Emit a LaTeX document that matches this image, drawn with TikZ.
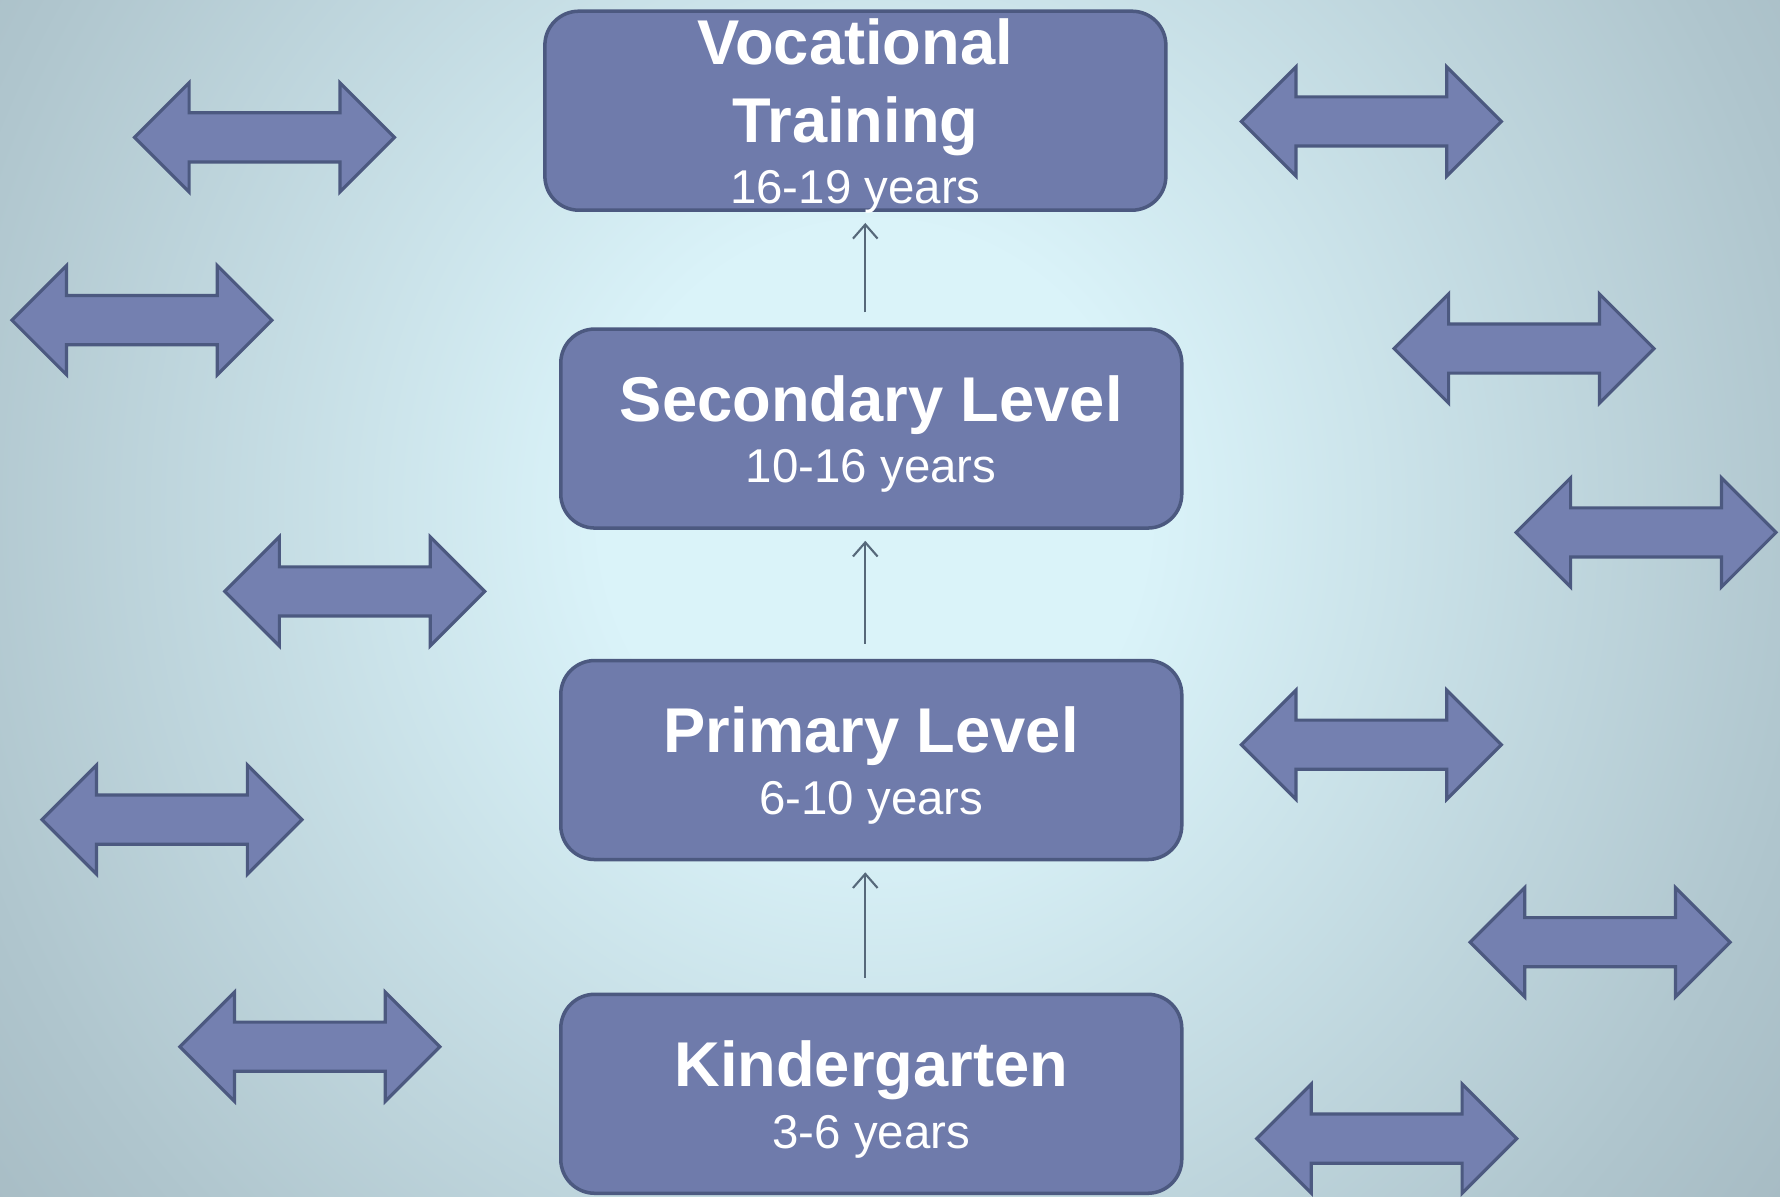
\documentclass[tikz,border=0pt]{standalone}
\usepackage{fontspec}
\setmainfont{Liberation Sans}
\usetikzlibrary{shapes.arrows,arrows.meta}

\definecolor{bgin}{HTML}{DAF3F9}
\definecolor{bgmid}{HTML}{AFC5CD}
\definecolor{bgout}{HTML}{8A9AA3}
\definecolor{boxfill}{HTML}{6F7BAB}
\definecolor{boxline}{HTML}{4C5980}
\definecolor{arrfill}{HTML}{7480B0}
\definecolor{stemline}{HTML}{56687A}

\pgfdeclareradialshading{bgglow}{\pgfpoint{0bp}{0bp}}{color(0bp)=(bgin); color(6bp)=(bgin); color(21bp)=(bgmid); color(38bp)=(bgout); color(50bp)=(bgout)}

\newcommand{\lvl}[1]{\raisebox{-1.6pt}[\height][\depth]{\bfseries #1}}
\newcommand{\yrs}[1]{\raisebox{-1.6pt}[\height][\depth]{\fontsize{13.5}{17}\selectfont #1}}

\tikzset{
  levelbox/.style={draw=boxline, fill=boxfill, line width=1pt, rounded corners=0.34cm,
    minimum width=6.21cm, minimum height=1.99cm, inner sep=0pt,
    text=white, align=center, font=\fontsize{18}{22}\selectfont},
  swaparrow/.style={double arrow, draw=boxline, fill=arrfill, line width=0.9pt,
    minimum height=2.6cm, minimum width=1.06cm, double arrow head extend=0.3cm,
    inner xsep=0pt, inner ysep=0.23cm},
  upline/.style={draw=stemline, line width=0.6pt, -{Straight Barb[length=4pt,width=7pt]},
    shorten <=0.15cm, shorten >=0.11cm}
}

\begin{document}
\begin{tikzpicture}[x=0.011352cm, y=-0.011352cm]
  \useasboundingbox (0,0) rectangle (1568,1054.4);
  % background glow
  \begin{scope}
    \clip (0,0) rectangle (1568,1054.4);
    \shade[shading=bgglow] (770-1000,450-1050) rectangle (770+1000,450+1050);
  \end{scope}

  % side arrows
  \foreach \x/\y [count=\i] in {233/121, 125/282, 312.5/521, 151.5/722, 273/922,
      1208/107, 1342.5/307, 1450/469, 1208/656, 1409.5/830, 1221.5/1003}
    \node[swaparrow] (swap\i) at (\x,\y) {};

  % levels
  \node[levelbox] (voc) at (753.5,97.5) {\lvl{Vocational}\\\lvl{Training}\\[-4.5pt]\yrs{16-19 years}};
  \node[levelbox] (sec) at (767.5,377.5) {\lvl{Secondary Level}\\[-4.5pt]\yrs{10-16 years}};
  \node[levelbox] (pri) at (767.5,669.5) {\lvl{Primary Level}\\[-4.5pt]\yrs{6-10 years}};
  \node[levelbox] (kin) at (767.5,963.5) {\lvl{Kindergarten}\\[-4.5pt]\yrs{3-6 years}};

  \draw[upline] ([xshift=-0.06cm]kin.north) -- ([xshift=-0.06cm]pri.south);
  \draw[upline] ([xshift=-0.06cm]pri.north) -- ([xshift=-0.06cm]sec.south);
  \draw[upline] ([xshift=-0.06cm]sec.north) -- ([xshift=-0.06cm]sec.north |- voc.south);
\end{tikzpicture}
\end{document}
